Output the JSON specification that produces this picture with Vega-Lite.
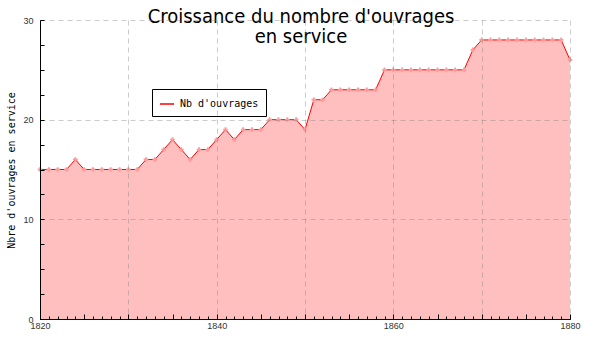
{
  "$schema": "https://vega.github.io/schema/vega-lite/v6.json",
  "autosize": {"type": "none"},
  "width": 530,
  "height": 299,
  "padding": {"left": 40, "top": 20, "right": 30, "bottom": 31},
  "background": "white",
  "config": {"view": {"stroke": null}},
  "title": {
    "text": ["Croissance du nombre d'ouvrages", "en service"],
    "anchor": "middle",
    "frame": "group",
    "font": "DejaVu Sans Condensed",
    "fontSize": 20,
    "fontWeight": "normal",
    "color": "#000000",
    "lineHeight": 20,
    "offset": -31,
    "dx": -4
  },
  "data": {
    "values": [
      {"year": 1820, "n": 15}, {"year": 1821, "n": 15}, {"year": 1822, "n": 15}, {"year": 1823, "n": 15},
      {"year": 1824, "n": 16}, {"year": 1825, "n": 15}, {"year": 1826, "n": 15}, {"year": 1827, "n": 15},
      {"year": 1828, "n": 15}, {"year": 1829, "n": 15}, {"year": 1830, "n": 15}, {"year": 1831, "n": 15},
      {"year": 1832, "n": 16}, {"year": 1833, "n": 16}, {"year": 1834, "n": 17}, {"year": 1835, "n": 18},
      {"year": 1836, "n": 17}, {"year": 1837, "n": 16}, {"year": 1838, "n": 17}, {"year": 1839, "n": 17},
      {"year": 1840, "n": 18}, {"year": 1841, "n": 19}, {"year": 1842, "n": 18}, {"year": 1843, "n": 19},
      {"year": 1844, "n": 19}, {"year": 1845, "n": 19}, {"year": 1846, "n": 20}, {"year": 1847, "n": 20},
      {"year": 1848, "n": 20}, {"year": 1849, "n": 20}, {"year": 1850, "n": 19}, {"year": 1851, "n": 22},
      {"year": 1852, "n": 22}, {"year": 1853, "n": 23}, {"year": 1854, "n": 23}, {"year": 1855, "n": 23},
      {"year": 1856, "n": 23}, {"year": 1857, "n": 23}, {"year": 1858, "n": 23}, {"year": 1859, "n": 25},
      {"year": 1860, "n": 25}, {"year": 1861, "n": 25}, {"year": 1862, "n": 25}, {"year": 1863, "n": 25},
      {"year": 1864, "n": 25}, {"year": 1865, "n": 25}, {"year": 1866, "n": 25}, {"year": 1867, "n": 25},
      {"year": 1868, "n": 25}, {"year": 1869, "n": 27}, {"year": 1870, "n": 28}, {"year": 1871, "n": 28},
      {"year": 1872, "n": 28}, {"year": 1873, "n": 28}, {"year": 1874, "n": 28}, {"year": 1875, "n": 28},
      {"year": 1876, "n": 28}, {"year": 1877, "n": 28}, {"year": 1878, "n": 28}, {"year": 1879, "n": 28},
      {"year": 1880, "n": 26}
    ]
  },
  "resolve": {"axis": {"x": "independent", "y": "independent"}},
  "layer": [
    {
      "mark": {"type": "area", "color": "#ffbfbf", "opacity": 1},
      "encoding": {
        "x": {
          "field": "year", "type": "quantitative",
          "scale": {"domain": [1820, 1880], "nice": false, "zero": false},
          "axis": {
            "orient": "bottom", "title": null, "zindex": 1,
            "values": [1820, 1830, 1840, 1850, 1860, 1870, 1880],
            "labelExpr": "datum.value % 20 == 0 ? datum.value : ''",
            "format": "d",
            "ticks": false, "labelPadding": 2,
            "labelFont": "Liberation Sans", "labelFontSize": 9, "labelColor": "#333333",
            "labelFlush": false, "labelOverlap": false,
            "domain": true, "domainColor": "#000000", "domainWidth": 1,
            "grid": true, "gridColor": "#808080", "gridOpacity": 0.4, "gridDash": [5, 4]
          }
        },
        "y": {
          "field": "n", "type": "quantitative",
          "scale": {"domain": [0, 30], "nice": false},
          "axis": {
            "orient": "left", "zindex": 1,
            "title": "Nbre d'ouvrages en service",
            "titleFont": "DejaVu Sans Mono", "titleFontSize": 10, "titleFontWeight": "normal",
            "titleColor": "#000000", "titleX": -29, "titleY": 150, "titleAngle": -90,
            "titleAlign": "center", "titleBaseline": "middle",
            "values": [0, 10, 20, 30],
            "ticks": false, "labelPadding": 7,
            "labelFont": "Liberation Sans", "labelFontSize": 9, "labelColor": "#333333",
            "labelFlush": false, "labelOverlap": false,
            "domain": true, "domainColor": "#000000", "domainWidth": 1,
            "grid": true, "gridColor": "#808080", "gridOpacity": 0.4, "gridDash": [5, 4]
          }
        }
      }
    },
    {
      "mark": {"type": "line", "strokeWidth": 1},
      "encoding": {
        "x": {
          "field": "year", "type": "quantitative",
          "axis": {
            "orient": "bottom", "title": null, "zindex": 1,
            "values": [1820, 1821, 1822, 1823, 1824, 1825, 1826, 1827, 1828, 1829, 1830, 1831, 1832, 1833, 1834, 1835, 1836, 1837, 1838, 1839, 1840, 1841, 1842, 1843, 1844, 1845, 1846, 1847, 1848, 1849, 1850, 1851, 1852, 1853, 1854, 1855, 1856, 1857, 1858, 1859, 1860, 1861, 1862, 1863, 1864, 1865, 1866, 1867, 1868, 1869, 1870, 1871, 1872, 1873, 1874, 1875, 1876, 1877, 1878, 1879, 1880],
            "labels": false, "domain": false, "grid": false,
            "ticks": true, "tickSize": -3, "tickColor": "#000000", "tickWidth": 1
          }
        },
        "y": {
          "field": "n", "type": "quantitative",
          "axis": {
            "orient": "left", "title": null, "zindex": 1,
            "values": [0, 2.5, 5, 7.5, 10, 12.5, 15, 17.5, 20, 22.5, 25, 27.5, 30],
            "labels": false, "domain": false, "grid": false,
            "ticks": true, "tickSize": -4, "tickColor": "#000000", "tickWidth": 1
          }
        },
        "color": {
          "datum": "Nb d'ouvrages",
          "type": "nominal",
          "scale": {"range": ["#ff0000"]},
          "legend": {
            "orient": "none", "legendX": 112, "legendY": 69,
            "title": null,
            "fillColor": "#ffffff", "strokeColor": "#000000",
            "padding": 7,
            "symbolType": "stroke", "symbolSize": 200, "symbolStrokeWidth": 1.5,
            "symbolStrokeColor": "#ff0000",
            "labelFont": "DejaVu Sans Mono", "labelFontSize": 10, "labelColor": "#000000",
            "labelOffset": 5
          }
        }
      }
    },
    {
      "mark": {"type": "point", "shape": "cross", "filled": true, "size": 22, "color": "#ff9a9a", "opacity": 1},
      "encoding": {
        "x": {
          "field": "year", "type": "quantitative",
          "axis": {
            "orient": "bottom", "title": null, "zindex": 1,
            "values": [1820, 1825, 1830, 1835, 1840, 1845, 1850, 1855, 1860, 1865, 1870, 1875, 1880],
            "labels": false, "domain": false, "grid": false,
            "ticks": true, "tickSize": -5, "tickColor": "#000000", "tickWidth": 1
          }
        },
        "y": {
          "field": "n", "type": "quantitative",
          "axis": null
        }
      }
    }
  ]
}
